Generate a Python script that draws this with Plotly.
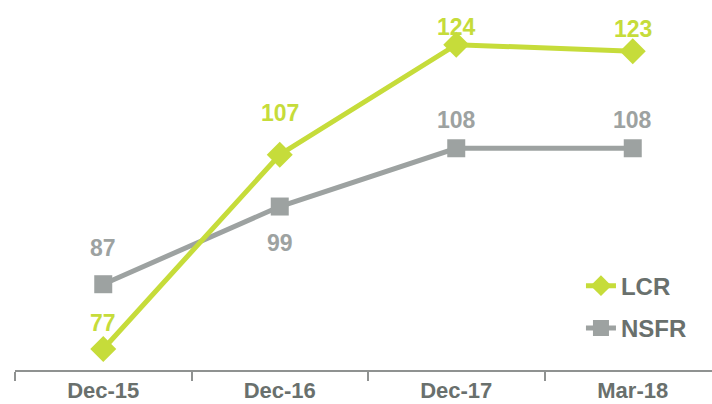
import plotly.graph_objects as go

# Liquidity ratios by reporting date
periods = ["Dec-15", "Dec-16", "Dec-17", "Mar-18"]
lcr = [77, 107, 124, 123]
nsfr = [87, 99, 108, 108]

# vertical pixel offset of each value label from its point
lcr_label_shift = [26, 42, 18, 22]
nsfr_label_shift = [36, -36, 28, 28]

LCR_COLOR = "#c6dc3a"
NSFR_COLOR = "#9da2a1"
TEXT_COLOR = "#69706d"
FONT = "Liberation Sans, Arial, sans-serif"

fig = go.Figure()
fig.add_trace(go.Scatter(
    x=periods, y=nsfr, name="NSFR", mode="lines+markers",
    line=dict(color=NSFR_COLOR, width=5),
    marker=dict(symbol="square", size=18, color=NSFR_COLOR),
    legendgroup="b", legendrank=2,
))
fig.add_trace(go.Scatter(
    x=periods, y=lcr, name="LCR", mode="lines+markers",
    line=dict(color=LCR_COLOR, width=5),
    marker=dict(symbol="diamond", size=20, color=LCR_COLOR),
    legendgroup="a", legendrank=1,
))

for p, v, s in zip(periods, lcr, lcr_label_shift):
    fig.add_annotation(x=p, y=v, text=str(v), showarrow=False, yshift=s,
                       font=dict(family=FONT, size=23, weight="bold", color=LCR_COLOR))
for p, v, s in zip(periods, nsfr, nsfr_label_shift):
    fig.add_annotation(x=p, y=v, text=str(v), showarrow=False, yshift=s,
                       font=dict(family=FONT, size=23, weight="bold", color=NSFR_COLOR))

fig.update_layout(
    width=712, height=404,
    margin=dict(l=15, r=0, t=0, b=34, autoexpand=False),
    paper_bgcolor="white", plot_bgcolor="white",
    font=dict(family=FONT, color=TEXT_COLOR),
    showlegend=True,
    legend=dict(x=0.812, y=0.17, xanchor="left", yanchor="middle",
                font=dict(family=FONT, size=24, weight="bold", color=TEXT_COLOR),
                tracegroupgap=8,
                bgcolor="rgba(0,0,0,0)"),
    xaxis=dict(
        type="category", range=[-0.5, 3.449], automargin=False,
        showgrid=False, zeroline=False,
        showline=True, linecolor="#8f9291", linewidth=2,
        ticks="outside", tickson="boundaries", ticklen=9,
        tickcolor="#8f9291", tickwidth=2,
        tickfont=dict(family=FONT, size=22, weight="bold", color=TEXT_COLOR),
        ticklabelstandoff=0,
    ),
    yaxis=dict(
        range=[73.75, 130.9], visible=False, showgrid=False, zeroline=False,
    ),
)

fig.write_html("out.html")
